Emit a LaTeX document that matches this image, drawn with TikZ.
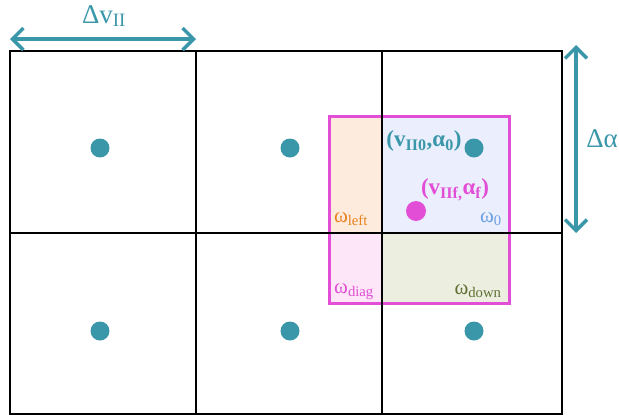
\documentclass[tikz,border=0pt]{standalone}
\usepackage{fontspec}
\setmainfont{Liberation Serif}
\usetikzlibrary{arrows.meta}
\definecolor{dotteal}{HTML}{3A97A9}
\definecolor{boxmag}{HTML}{E24FD6}
\definecolor{leftfill}{HTML}{FDEBDD}
\definecolor{zerofill}{HTML}{EBEFFD}
\definecolor{diagfill}{HTML}{FDE6F8}
\definecolor{downfill}{HTML}{ECEFE0}
\definecolor{leftcol}{HTML}{E8811E}
\definecolor{zerocol}{HTML}{6C9EE0}
\definecolor{downcol}{HTML}{5E6F33}

\begin{document}
\begin{tikzpicture}[x=1pt, y=-1pt, >={Straight Barb[length=11pt,width=22pt]},
  dot/.style={circle, fill=dotteal, inner sep=0pt, minimum size=19pt},
  gridline/.style={line width=1.5pt, black},
  span/.style={<->, line width=3.5pt, dotteal},
  omega/.style={font=\fontsize{21}{23}\selectfont, inner sep=0pt}]
\useasboundingbox (0,0) rectangle (619,418);
% regions inside the box
\fill[leftfill] (329,116) rectangle (382,233);
\fill[zerofill] (382,116) rectangle (509,233);
\fill[diagfill] (329,233) rectangle (382,303);
\fill[downfill] (382,233) rectangle (509,303);
\draw[boxmag, line width=3pt] (329,116) rectangle (509,303);
% grid
\draw[gridline] (10,51) rectangle (562,414);
\draw[gridline] (196,51) -- (196,414);
\draw[gridline] (382,51) -- (382,414);
\draw[gridline] (10,233) -- (562,233);
% grid points
\foreach \x/\n in {100/a,290/b,474/c}{
  \node[dot] (\n top) at (\x,148) {};
  \node[dot] (\n bot) at (\x,331) {};
}
\node[dot, fill=boxmag, minimum size=20pt] (target) at (416,211) {};
\node[dotteal, font=\fontsize{23}{25}\selectfont\bfseries, inner sep=0pt] (start) at (424,141) {(v\textsubscript{II0},α\textsubscript{0})};
\node[boxmag, font=\fontsize{23}{25}\selectfont\bfseries, inner sep=0pt] (finish) at (455,190) {(v\textsubscript{IIf,}α\textsubscript{f})};
\node[omega, leftcol] (wleft) at (351,219) {ω\textsubscript{left}};
\node[omega, zerocol] (wzero) at (491,219) {ω\textsubscript{0}};
\node[omega, boxmag] (wdiag) at (354,292) {ω\textsubscript{diag}};
\node[omega, downcol] (wdown) at (478,291) {ω\textsubscript{down}};
% step sizes
\coordinate (vl) at (10,39);
\coordinate (vr) at (196,39);
\coordinate (at) at (576,45);
\coordinate (ab) at (576,233);
\draw[span] (vl) -- (vr);
\draw[span] (at) -- (ab);
\node[dotteal, font=\fontsize{27}{29}\selectfont] (dv) at (104,16) {Δv\textsubscript{II}};
\node[dotteal, font=\fontsize{27}{29}\selectfont] (da) at (602,139) {Δα};
\end{tikzpicture}
\end{document}
